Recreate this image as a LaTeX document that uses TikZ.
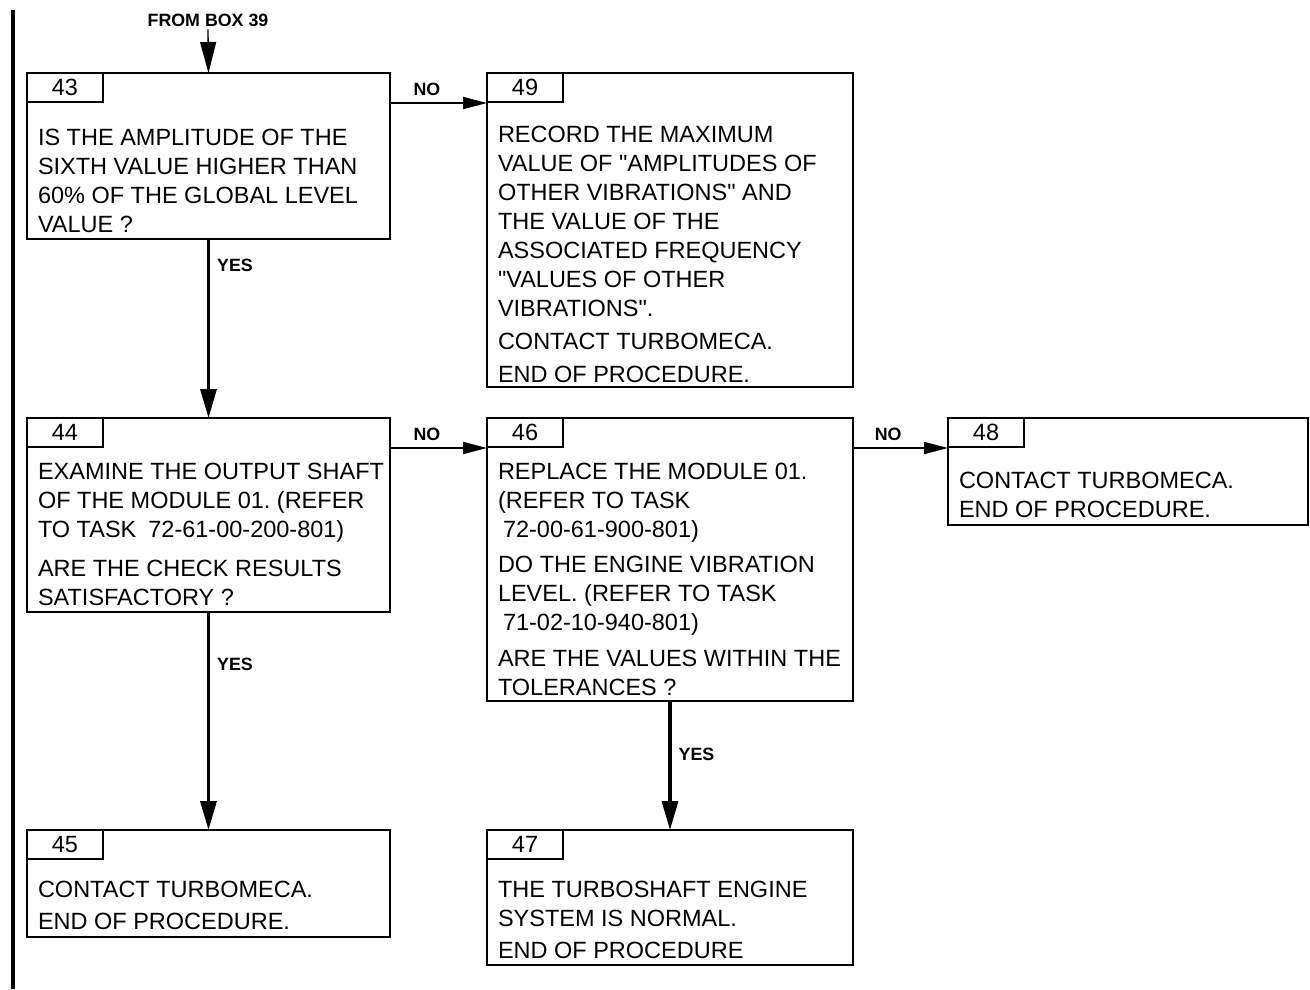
\documentclass[tikz,border=0pt]{standalone}
\usepackage{fontspec}
\setmainfont{Liberation Sans}
\usetikzlibrary{positioning, arrows.meta}
\frenchspacing

\begin{document}
\begin{tikzpicture}[x=1pt, y=-1pt, line width=2pt,
  box/.style={draw, anchor=north west, inner sep=0pt, outer sep=0pt},
  tab/.style={draw, anchor=north west, inner sep=0pt, outer sep=0pt,
    minimum width=76pt, minimum height=29pt, font=\fontsize{23.5}{29}\selectfont},
  txt/.style={anchor=north west, align=left, inner sep=0pt,
    font=\fontsize{23.5}{29}\selectfont},
  lbl/.style={font=\bfseries\fontsize{17.8}{20}\selectfont, inner sep=2pt},
  yes/.style={line width=3.4pt, -{Triangle[length=29pt,width=16pt]}},
  no/.style={line width=1.8pt, -{Triangle[length=24pt,width=12pt]}}]

\useasboundingbox (0,0) rectangle (1310,989);

% ---------- change bar ----------
\draw[line width=4pt] (13,10) -- (13,989);

% ---------- boxes ----------
\node[box, minimum width=363pt, minimum height=166pt] (b43) at (27,73) {};
\node[box, minimum width=366pt, minimum height=314pt] (b49) at (487,73) {};
\node[box, minimum width=363pt, minimum height=194pt] (b44) at (27,418) {};
\node[box, minimum width=366pt, minimum height=283pt] (b46) at (487,418) {};
\node[box, minimum width=360pt, minimum height=107pt] (b48) at (948,418) {};
\node[box, minimum width=363pt, minimum height=107pt] (b45) at (27,830) {};
\node[box, minimum width=366pt, minimum height=135pt] (b47) at (487,830) {};

% ---------- box numbers ----------
\foreach \n in {43,44,45,46,47,48,49}{\node[tab] (t\n) at (b\n.north west) {\n};}

% ---------- box texts ----------
\node[txt] (x43) at (37,128) {IS THE AMPLITUDE OF THE\\ SIXTH VALUE HIGHER THAN\\
  60\% OF THE GLOBAL LEVEL\\ VALUE ?};
\node[txt] (x49) at (497,125) {RECORD THE MAXIMUM\\ VALUE OF \textquotedbl AMPLITUDES OF\\
  OTHER VIBRATIONS\textquotedbl{} AND\\ THE VALUE OF THE\\ ASSOCIATED FREQUENCY\\
  \textquotedbl VALUES OF OTHER\\ VIBRATIONS\textquotedbl.\\[4pt] CONTACT TURBOMECA.\\[4pt] END OF PROCEDURE.};
\node[txt] (x44) at (37,462) {EXAMINE THE OUTPUT SHAFT\\ OF THE MODULE 01. (REFER\\
  TO TASK\hspace*{12pt}72-61-00-200-801)\\[10pt] ARE THE CHECK RESULTS\\ SATISFACTORY ?};
\node[txt] (x46) at (497,462) {REPLACE THE MODULE 01.\\ (REFER TO TASK\\
  \hspace*{5pt}72-00-61-900-801)\\[6pt] DO THE ENGINE VIBRATION\\ LEVEL. (REFER TO TASK\\
  \hspace*{5pt}71-02-10-940-801)\\[7pt] ARE THE VALUES WITHIN THE\\ TOLERANCES ?};
\node[txt] (x48) at (958,471) {CONTACT TURBOMECA.\\ END OF PROCEDURE.};
\node[txt] (x45) at (37,880) {CONTACT TURBOMECA.\\[3pt] END OF PROCEDURE.};
\node[txt] (x47) at (497,880) {THE TURBOSHAFT ENGINE\\ SYSTEM IS NORMAL.\\[3pt] END OF PROCEDURE};

% ---------- entry ----------
\node[lbl] (from39) at (208,20) {FROM BOX 39};
\draw[line width=1.3pt, -{Triangle[length=31pt,width=16pt]}] (from39.south) -- (b43.north);

% ---------- connectors ----------
\draw[no] ([yshift=-30pt]b43.north east) -- node[lbl, above=4pt, pos=0.38]{NO} ([yshift=-30pt]b49.north west);
\draw[no] ([yshift=-30pt]b44.north east) -- node[lbl, above=4pt, pos=0.38]{NO} ([yshift=-30pt]b46.north west);
\draw[no] ([yshift=-30pt]b46.north east) -- node[lbl, above=4pt, pos=0.37]{NO} ([yshift=-30pt]b48.north west);
\draw[yes] (b43.south) -- node[lbl, right=5pt, pos=0.15]{YES} (b44.north);
\draw[yes] (b44.south) -- node[lbl, right=5pt, pos=0.24]{YES} (b45.north);
\draw[yes] (b46.south) -- node[lbl, right=5pt, pos=0.41]{YES} (b47.north);

\end{tikzpicture}
\end{document}
